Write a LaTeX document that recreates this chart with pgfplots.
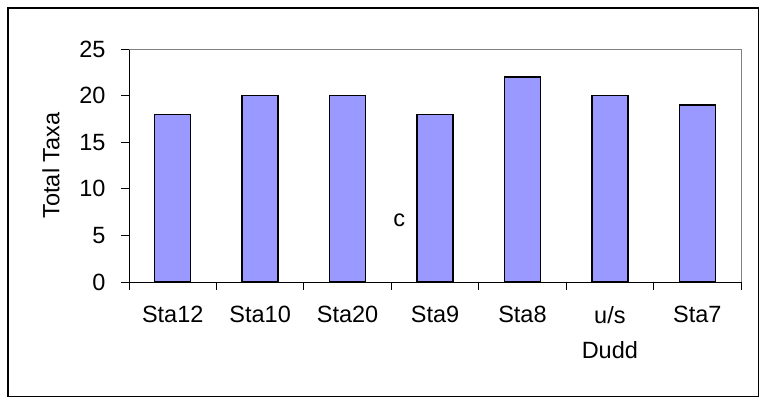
\documentclass[border=0pt]{standalone}
\usepackage{pgfplots}
\pgfplotsset{compat=1.18}
\usepackage{fontspec}
\setmainfont{Liberation Sans}
\definecolor{barblue}{HTML}{9999FF}
\begin{document}
\begin{tikzpicture}[x=1pt,y=1pt]
\path[use as bounding box] (0,0) rectangle (760,398);
\draw[line width=1.2pt] (8,1.5) rectangle (758.5,390);
\begin{axis}[
  at={(129pt,116pt)}, anchor=south west,
  scale only axis, width=612pt, height=233pt,
  xmin=-0.5, xmax=6.5, ymin=0, ymax=25,
  axis lines=left, axis line style={-, line width=0.9pt},
  xtick={0,...,6},
  xticklabels={Sta12,Sta10,Sta20,Sta9,Sta8,{u/s\\Dudd},Sta7},
  x tick label style={align=center, font=\fontsize{23.5}{35}\selectfont, yshift=-13pt},
  major x tick style={draw=none},
  minor xtick={-0.5,0.5,...,6.5},
  minor tick length=8pt,
  minor x tick style={line width=0.9pt, black},
  ytick={0,5,...,25},
  yticklabel style={font=\fontsize{23.5}{27}\selectfont, anchor=east, xshift=-12pt},
  y tick style={line width=0.9pt, black},
  tick align=outside, major tick length=8pt,
  /pgf/number format/assume math mode=true,
  ylabel={Total Taxa},
  ylabel style={at={(axis description cs:0,0.5)}, anchor=center, yshift=78pt, font=\fontsize{23.5}{27}\selectfont},
  clip=false,
]
\draw[gray, line width=0.9pt] (axis cs:-0.5,25) -- (axis cs:6.5,25) -- (axis cs:6.5,0);
\addplot[ybar, bar width=36pt, fill=barblue, draw=black, line width=1.3pt]
  coordinates {(0,18) (1,20) (2,20) (3,18) (4,22) (5,20) (6,19)};
\node[font=\fontsize{23.5}{27}\selectfont] at (axis cs:2.59,6.6) {c};
\end{axis}
\end{tikzpicture}
\end{document}
